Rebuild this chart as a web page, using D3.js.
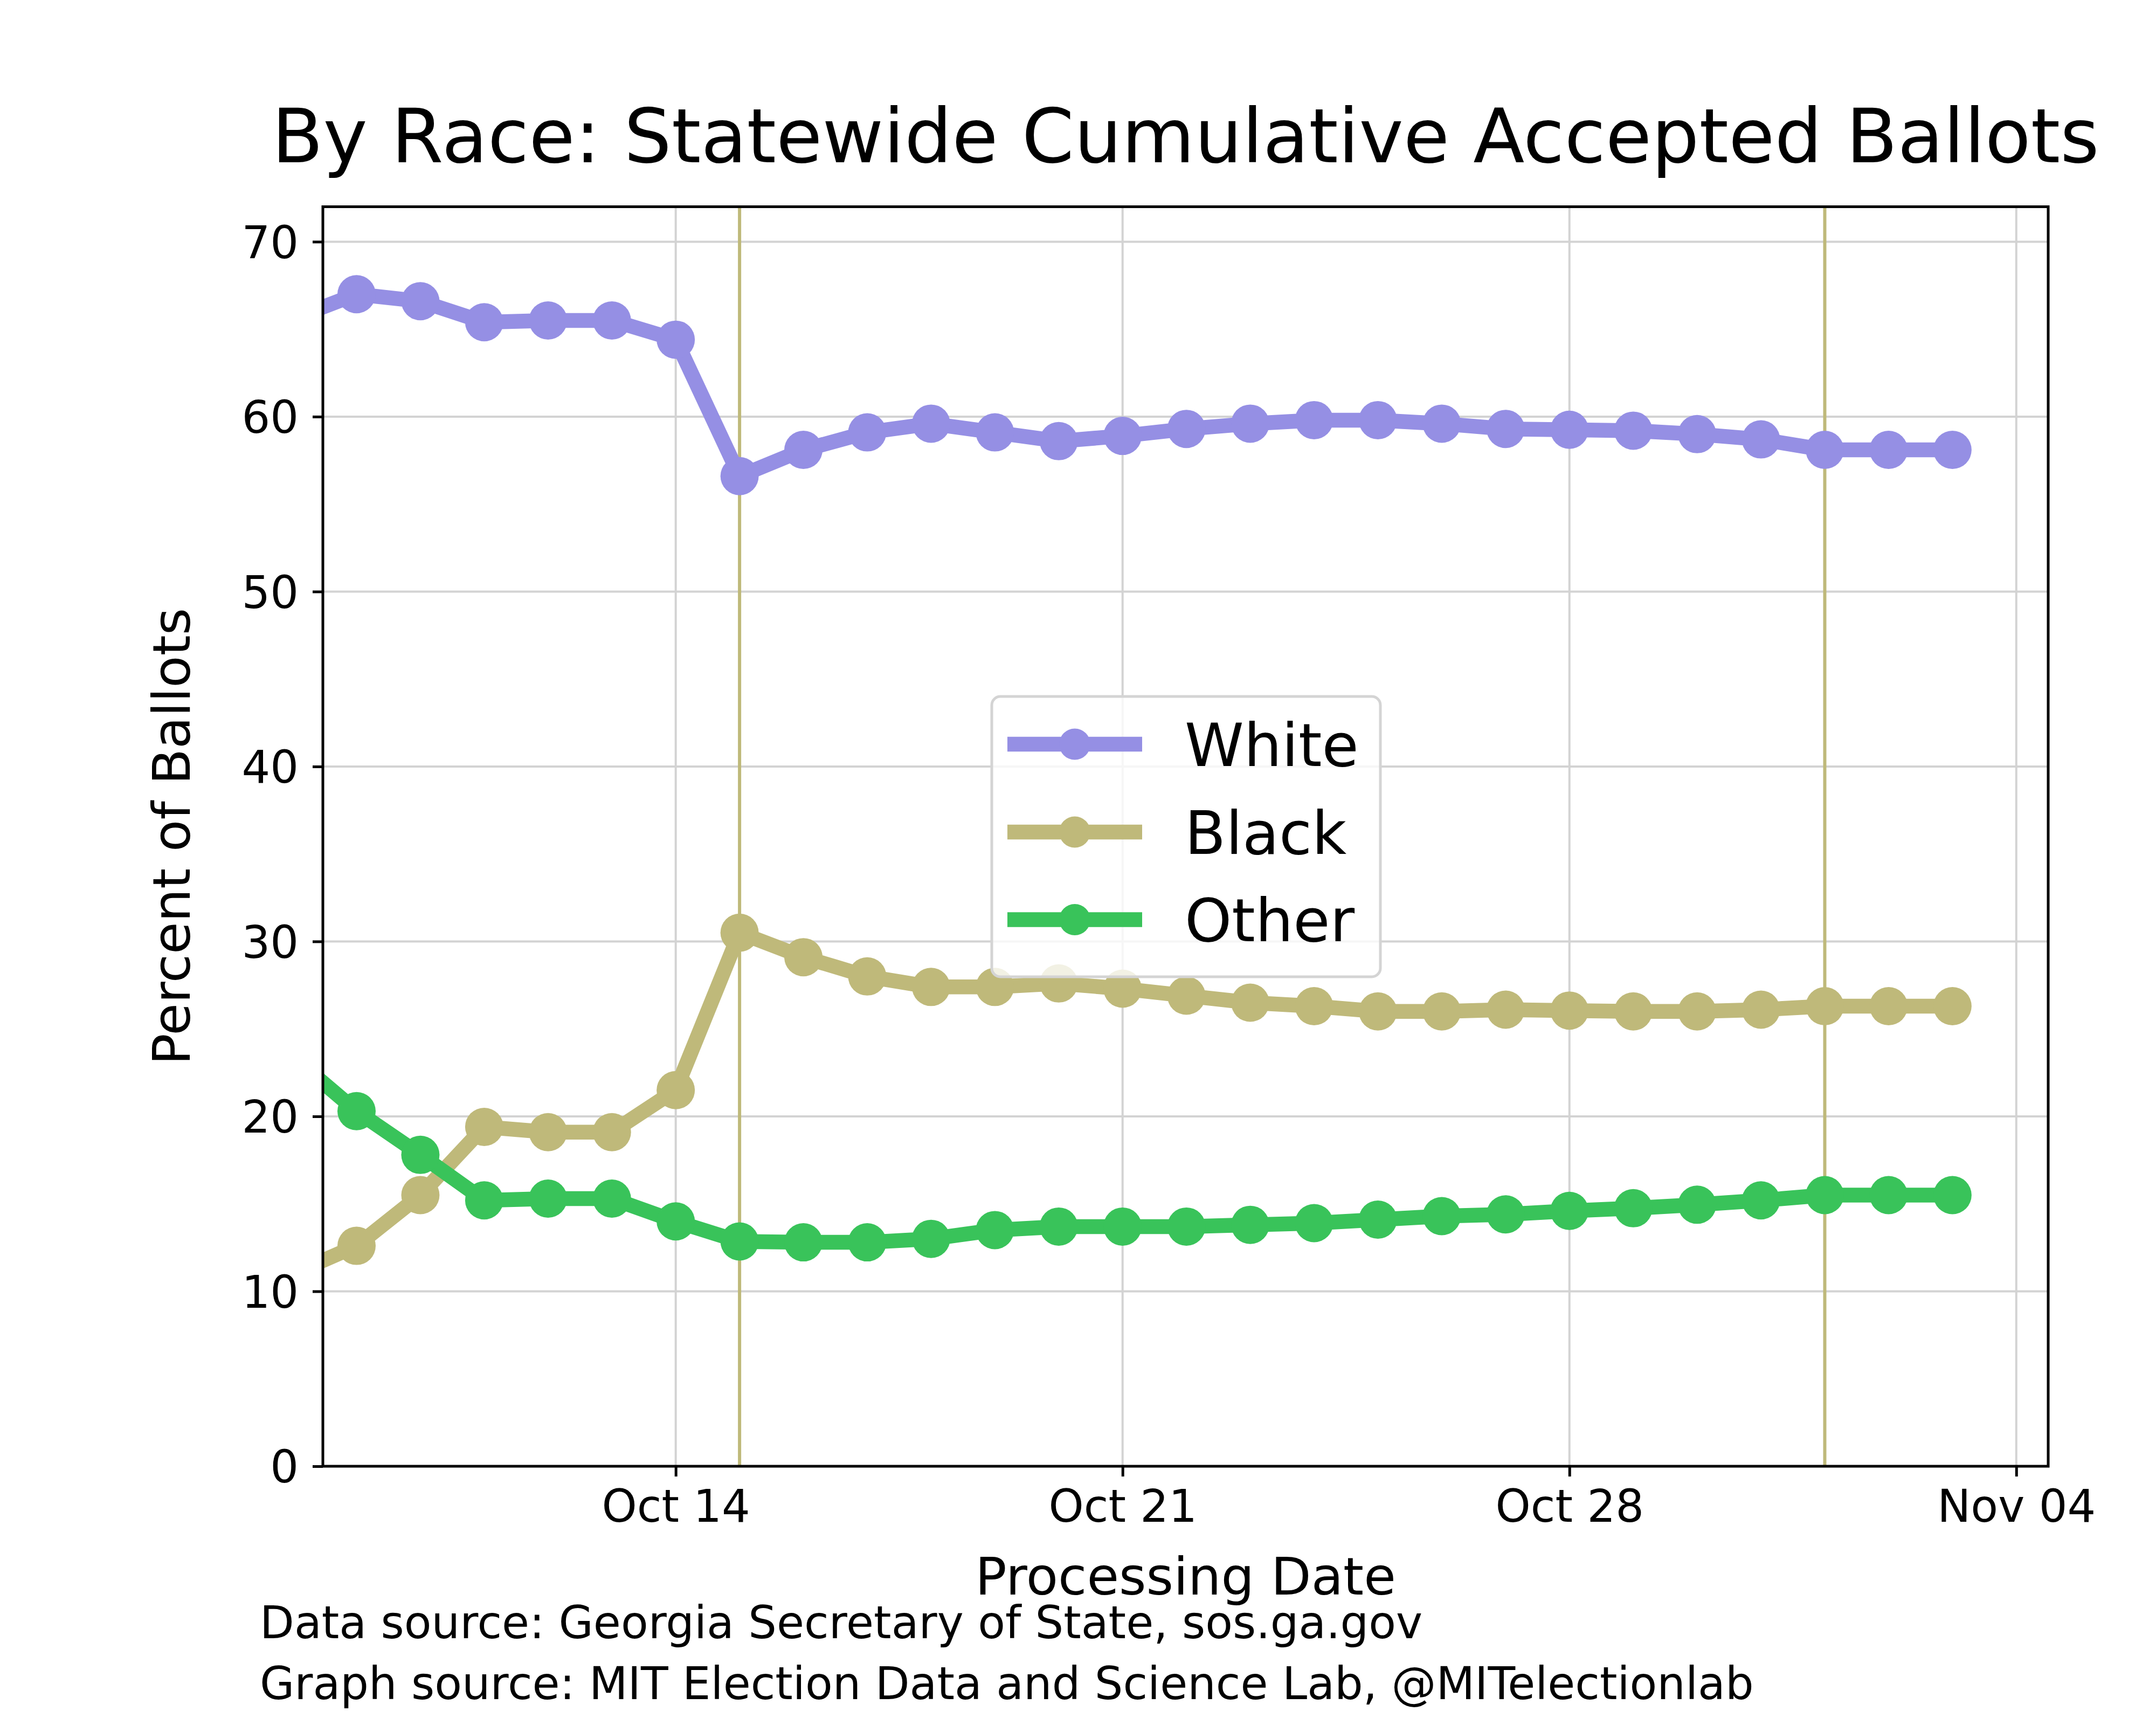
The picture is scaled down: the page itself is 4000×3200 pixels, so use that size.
<!DOCTYPE html>
<html>
<head>
<meta charset="utf-8">
<script src="https://cdn.jsdelivr.net/npm/d3@7"></script>
<style>
  html, body { margin: 0; padding: 0; background: #ffffff; }
  text { font-family: "DejaVu Sans", sans-serif; fill: #000; }
</style>
</head>
<body>
<script>
// ---------------- DATA ----------------
const dates = [
  "2020-10-08","2020-10-09","2020-10-10","2020-10-11","2020-10-12","2020-10-13","2020-10-14",
  "2020-10-15","2020-10-16","2020-10-17","2020-10-18","2020-10-19","2020-10-20","2020-10-21",
  "2020-10-22","2020-10-23","2020-10-24","2020-10-25","2020-10-26","2020-10-27","2020-10-28",
  "2020-10-29","2020-10-30","2020-10-31","2020-11-01","2020-11-02","2020-11-03"
];
const whiteVals = [65.6, 67.0, 66.6, 65.4, 65.5, 65.5, 64.4,
  56.6, 58.1, 59.1, 59.6, 59.1, 58.6, 58.9,
  59.3, 59.6, 59.8, 59.8, 59.6, 59.3, 59.25,
  59.2, 59.0, 58.7, 58.1, 58.1, 58.1];
const blackVals = [11.0, 12.6, 15.5, 19.4, 19.1, 19.1, 21.5,
  30.5, 29.1, 28.0, 27.4, 27.4, 27.6, 27.3,
  26.9, 26.5, 26.3, 26.0, 26.0, 26.1, 26.05,
  26.0, 26.0, 26.1, 26.3, 26.3, 26.3];
const otherVals = [23.4, 20.3, 17.8, 15.2, 15.3, 15.3, 14.0,
  12.85, 12.8, 12.8, 13.0, 13.5, 13.7, 13.7,
  13.7, 13.8, 13.9, 14.1, 14.3, 14.4, 14.6,
  14.75, 14.95, 15.2, 15.5, 15.5, 15.5];
const seriesNames = ["White", "Black", "Other"];
const seriesColors = ["#958fe4", "#bfb97a", "#39c35a"];
const xTickLabels = ["2020-10-14", "2020-10-21", "2020-10-28", "2020-11-04"];
const yTickValues = [0, 10, 20, 30, 40, 50, 60, 70];
const markerDates = ["2020-10-15", "2020-11-01"];
const titleText = "By Race: Statewide Cumulative Accepted Ballots";
const xLabel = "Processing Date";
const yLabel = "Percent of Ballots";
const footer1 = "Data source: Georgia Secretary of State, sos.ga.gov";
const footer2 = "Graph source: MIT Election Data and Science Lab, @MITelectionlab";

// ---------------- LAYOUT ----------------
const W = 4000, H = 3200;
const L = 599, R = 3800, T = 383.5, B = 2720;
const parse = d3.utcParse("%Y-%m-%d");

const svg = d3.select("body").append("svg")
  .attr("width", W).attr("height", H)
  .attr("viewBox", `0 0 ${W} ${H}`);
svg.append("rect").attr("width", W).attr("height", H).attr("fill", "#fff");

const x = d3.scaleUtc()
  .domain([new Date(Date.UTC(2020, 9, 8, 11, 20)), new Date(Date.UTC(2020, 10, 4, 12, 0))])
  .range([L, R]);
const y = d3.scaleLinear().domain([0, 72]).range([B, T]);

svg.append("defs").append("clipPath").attr("id", "clip")
  .append("rect").attr("x", L).attr("y", T).attr("width", R - L).attr("height", B - T);

// grid
const grid = svg.append("g");
grid.selectAll("line.gy").data(yTickValues).enter().append("line")
  .attr("x1", L).attr("x2", R).attr("y1", d => y(d)).attr("y2", d => y(d))
  .attr("stroke", "#d3d3d3").attr("stroke-width", 4);
grid.selectAll("line.gx").data(xTickLabels.map(parse)).enter().append("line")
  .attr("y1", T).attr("y2", B).attr("x1", d => x(d)).attr("x2", d => x(d))
  .attr("stroke", "#d3d3d3").attr("stroke-width", 4);

// vertical marker lines
svg.append("g").selectAll("line").data(markerDates.map(parse)).enter().append("line")
  .attr("y1", T).attr("y2", B).attr("x1", d => x(d)).attr("x2", d => x(d))
  .attr("stroke", "#bfb97a").attr("stroke-width", 6);

// series
const allVals = [whiteVals, blackVals, otherVals];
const plot = svg.append("g").attr("clip-path", "url(#clip)");
const lineGen = d3.line().x(d => x(d.date)).y(d => y(d.v));
allVals.forEach((vals, i) => {
  const pts = dates.map((d, k) => ({ date: parse(d), v: vals[k] }));
  plot.append("path").datum(pts).attr("d", lineGen)
    .attr("fill", "none").attr("stroke", seriesColors[i]).attr("stroke-width", 27.5)
    .attr("stroke-linejoin", "round");
  plot.append("g").selectAll("circle").data(pts).enter().append("circle")
    .attr("cx", d => x(d.date)).attr("cy", d => y(d.v)).attr("r", 35.5)
    .attr("fill", seriesColors[i]);
});

// axes
const xAxis = d3.axisBottom(x).tickValues(xTickLabels.map(parse))
  .tickFormat(d3.utcFormat("%b %d")).tickSizeInner(19).tickSizeOuter(0).tickPadding(0);
const gx = svg.append("g").attr("transform", `translate(0,${B})`).call(xAxis);
gx.select(".domain").remove();
gx.selectAll(".tick line").attr("stroke", "#000").attr("stroke-width", 5);
gx.selectAll(".tick text").attr("font-size", 83).attr("dy", null).attr("y", 103)
  .attr("font-family", "DejaVu Sans");

const yAxis = d3.axisLeft(y).tickValues(yTickValues).tickSizeInner(19).tickSizeOuter(0).tickPadding(0);
const gy = svg.append("g").attr("transform", `translate(${L},0)`).call(yAxis);
gy.select(".domain").remove();
gy.selectAll(".tick line").attr("stroke", "#000").attr("stroke-width", 5);
gy.selectAll(".tick text").attr("font-size", 83).attr("x", -45).attr("dy", "0.36em")
  .attr("font-family", "DejaVu Sans");

// spines
svg.append("rect").attr("x", L).attr("y", T).attr("width", R - L).attr("height", B - T)
  .attr("fill", "none").attr("stroke", "#000").attr("stroke-width", 5);

// legend
const lg = svg.append("g");
lg.append("rect").attr("x", 1840).attr("y", 1292).attr("width", 721).attr("height", 520)
  .attr("rx", 16).attr("ry", 16)
  .attr("fill", "rgba(255,255,255,0.8)").attr("stroke", "#d4d4d4").attr("stroke-width", 5);
const rowY = [1380.5, 1543.5, 1706];
seriesNames.forEach((name, i) => {
  lg.append("line").attr("x1", 1869).attr("x2", 2119).attr("y1", rowY[i]).attr("y2", rowY[i])
    .attr("stroke", seriesColors[i]).attr("stroke-width", 27.5);
  lg.append("circle").attr("cx", 1994).attr("cy", rowY[i]).attr("r", 29).attr("fill", seriesColors[i]);
  lg.append("text").attr("x", 2198).attr("y", rowY[i] + 40).attr("font-size", 111).text(name);
});

// titles
svg.append("text").attr("x", (L + R) / 2).attr("y", 301).attr("text-anchor", "middle")
  .attr("font-size", 139).text(titleText);
svg.append("text").attr("x", (L + R) / 2).attr("y", 2958).attr("text-anchor", "middle")
  .attr("font-size", 97).text(xLabel);
svg.append("text").attr("transform", `translate(352,${(T + B) / 2}) rotate(-90)`)
  .attr("text-anchor", "middle").attr("font-size", 97).text(yLabel);
svg.append("text").attr("x", 482).attr("y", 3039).attr("font-size", 83).text(footer1);
svg.append("text").attr("x", 482).attr("y", 3152).attr("font-size", 83).text(footer2);
</script>
</body>
</html>
